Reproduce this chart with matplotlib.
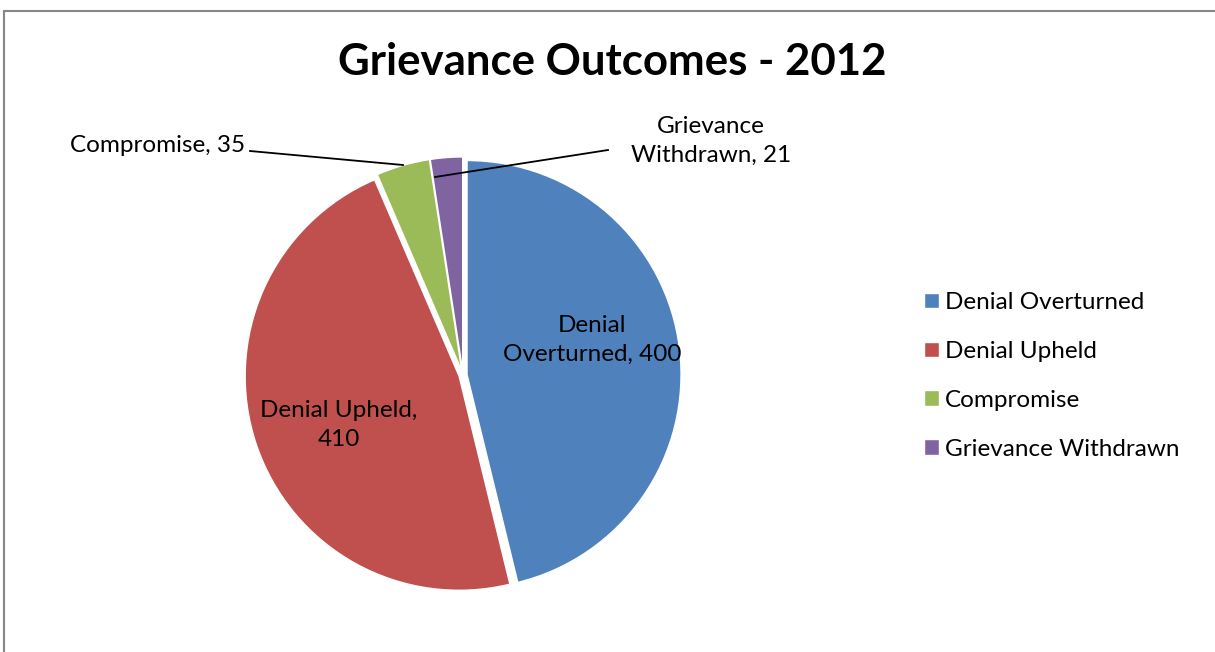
import matplotlib
matplotlib.use("Agg")
import matplotlib.pyplot as plt
from matplotlib.patches import Rectangle

categories = ["Denial Overturned", "Denial Upheld", "Compromise", "Grievance Withdrawn"]
counts = [400, 410, 35, 21]
colors = ["#4F81BD", "#C0504D", "#9BBB59", "#8064A2"]
title = "Grievance Outcomes - 2012"

W, H = 1215, 652
plt.rcParams["font.family"] = ["Lato", "DejaVu Sans"]

fig = plt.figure(figsize=(W / 100, H / 100), dpi=100)
ax = fig.add_axes([0, 0, 1, 1])

def py(y):
    # pixel row measured from the top -> data y
    return H - y

cx, cy, R = 463, 375, 214
explode_frac = 0.019
wedges, _ = ax.pie(
    counts,
    colors=colors,
    startangle=90,
    counterclock=False,
    explode=[explode_frac * R] * len(counts),
    center=(cx, py(cy)),
    radius=R,
    frame=True,
    wedgeprops=dict(edgecolor="white", linewidth=1.0),
)
ax.set_xlim(0, W)
ax.set_ylim(0, H)
ax.set_aspect("equal")
ax.axis("off")

fs = 17.5
ls = 1.45
ax.text(592, py(340), f"Denial\n{categories[0].split()[1]}, {counts[0]}",
        ha="center", va="center", fontsize=fs, linespacing=ls)
ax.text(339, py(425), f"{categories[1]},\n{counts[1]}",
        ha="center", va="center", fontsize=fs, linespacing=ls)

ax.text(245, py(145), f"{categories[2]}, {counts[2]}",
        ha="right", va="center", fontsize=fs)
ax.plot([250, 403], [py(151), py(165)], color="black", lw=1.3)

ax.text(711, py(141), f"Grievance\nWithdrawn, {counts[3]}",
        ha="center", va="center", fontsize=fs, linespacing=ls)
ax.plot([608, 435], [py(150), py(177)], color="black", lw=1.3)

ax.text(612, py(62), title, ha="center", va="center",
        fontsize=31.5, fontweight="bold")

leg = ax.legend(wedges, categories, loc="upper left",
                bbox_to_anchor=(924 / W, 1 - 292 / H),
                frameon=False, fontsize=fs, handlelength=0.62,
                handleheight=0.62, handletextpad=0.25, labelspacing=1.15,
                borderaxespad=0, borderpad=0)

fig.patches.append(Rectangle((4 / W, -0.01), 1.02, 1 - 11 / H + 0.01,
                             transform=fig.transFigure, fill=False,
                             edgecolor="#868686", linewidth=1.5))

fig.savefig("out.png", dpi=100)
